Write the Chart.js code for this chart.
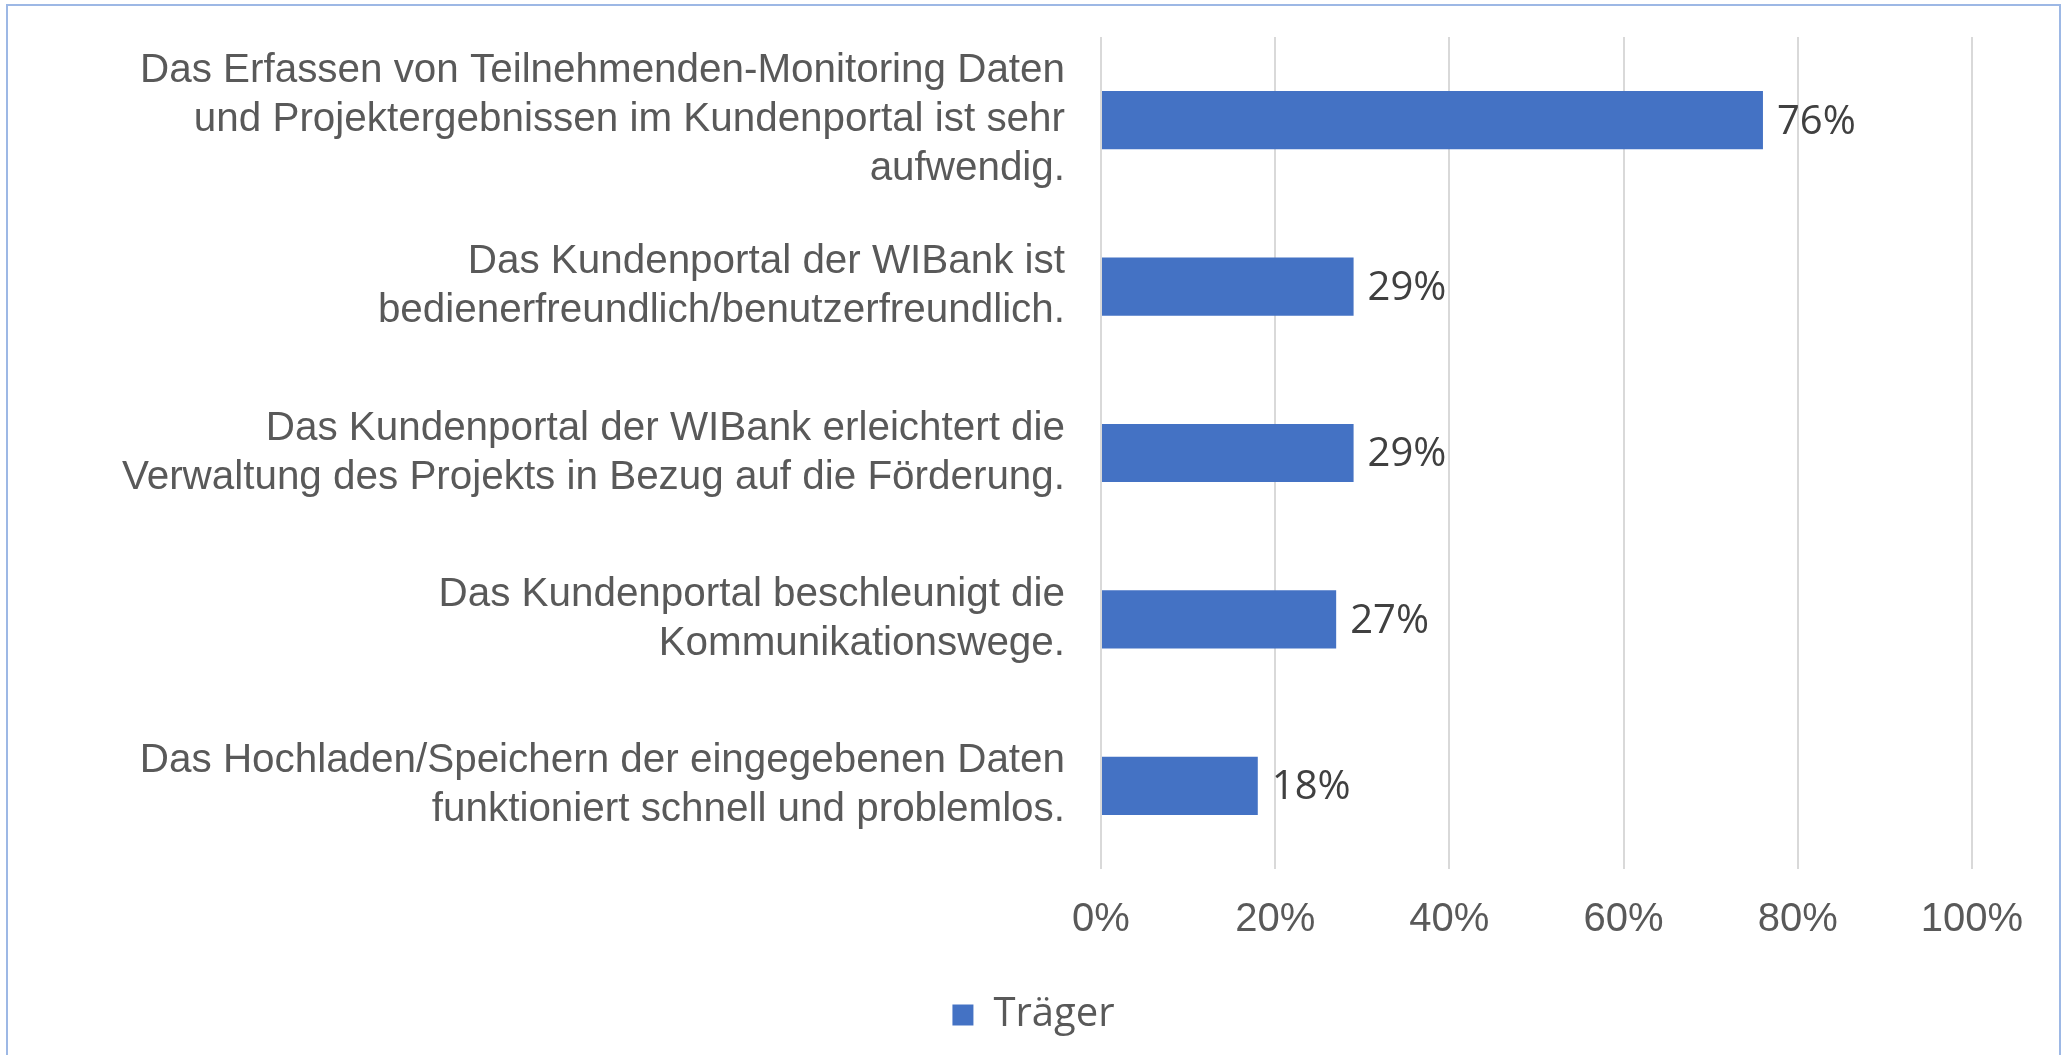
<!DOCTYPE html>
<html>
<head>
<meta charset="utf-8">
<script src="https://cdn.jsdelivr.net/npm/chart.js@4.4.0/dist/chart.umd.min.js"></script>
<style>
  html, body { margin: 0; padding: 0; background: #fff; overflow: hidden; }
  #wrap { position: relative; width: 2067px; height: 1055px; }
  #frame {
    position: absolute; left: 6px; top: 4px; width: 2055px; height: 1100px;
    border: 2px solid #9DB8E5; box-sizing: border-box; pointer-events: none;
  }
  canvas { position: absolute; left: 0; top: 0; }
</style>
</head>
<body>
<div id="wrap">
  <canvas id="chart" width="2067" height="1055"></canvas>
  <div id="frame"></div>
</div>
<script>
const categories = [
  ['Das Erfassen von Teilnehmenden-Monitoring Daten', 'und Projektergebnissen im Kundenportal ist sehr', 'aufwendig.'],
  ['Das Kundenportal der WIBank ist', 'bedienerfreundlich/benutzerfreundlich.'],
  ['Das Kundenportal der WIBank erleichtert die', 'Verwaltung des Projekts in Bezug auf die Förderung.'],
  ['Das Kundenportal beschleunigt die', 'Kommunikationswege.'],
  ['Das Hochladen/Speichern der eingegebenen Daten', 'funktioniert schnell und problemlos.']
];
const seriesName = 'Träger';
const traeger = [76, 29, 29, 27, 18];
const xTicks = [0, 20, 40, 60, 80, 100];

// value labels at the end of each bar
const barLabels = {
  id: 'barLabels',
  afterDatasetsDraw(chart) {
    const ctx = chart.ctx;
    const meta = chart.getDatasetMeta(0);
    ctx.save();
    ctx.font = '40px "Open Sans"';
    ctx.fillStyle = '#404040';
    ctx.textAlign = 'left';
    ctx.textBaseline = 'middle';
    meta.data.forEach((bar, i) => {
      ctx.fillText(traeger[i] + '%', bar.x + 14, bar.y + 2);
    });
    ctx.restore();
  }
};

new Chart(document.getElementById('chart').getContext('2d'), {
  type: 'bar',
  data: {
    labels: categories,
    datasets: [{
      label: seriesName,
      data: traeger,
      backgroundColor: '#4472C4',
      borderWidth: 0,
      barPercentage: 0.35,
      categoryPercentage: 1
    }]
  },
  options: {
    indexAxis: 'y',
    responsive: false,
    animation: false,
    layout: { padding: { left: 0, right: 0, top: 37, bottom: 10 } },
    scales: {
      x: {
        min: 0,
        max: 100,
        afterBuildTicks: (scale) => { scale.ticks = xTicks.map(v => ({ value: v })); },
        afterFit: (scale) => {
          scale.height = 116;
          scale.paddingRight = 95;
        },
        grid: { color: '#D9D9D9', lineWidth: 2, drawTicks: false },
        border: { display: false },
        ticks: {
          padding: 27,
          color: '#595959',
          font: { family: '"Liberation Sans", Arial', size: 40 },
          callback: (v) => v + '%'
        }
      },
      y: {
        afterFit: (scale) => {
          scale.width = 1101;
          scale.paddingTop = 0;
          scale.paddingBottom = 0;
        },
        grid: { display: false, drawTicks: false },
        border: { display: false },
        ticks: {
          padding: 36,
          color: '#595959',
          font: { family: '"Liberation Sans", Arial', size: 40.4, lineHeight: 1.21 }
        }
      }
    },
    plugins: {
      tooltip: { enabled: false },
      legend: {
        position: 'bottom',
        labels: {
          color: '#595959',
          font: { family: '"Open Sans"', size: 40 },
          boxWidth: 21,
          boxHeight: 21,
          padding: 10
        }
      }
    }
  },
  plugins: [barLabels]
});
</script>
</body>
</html>
